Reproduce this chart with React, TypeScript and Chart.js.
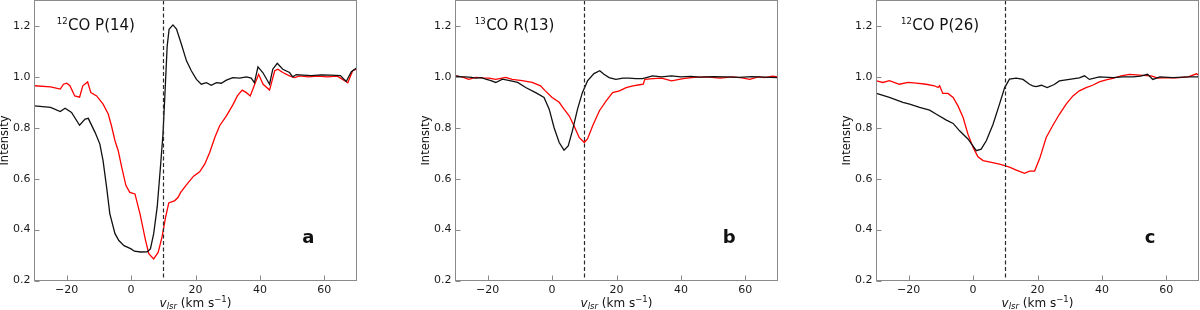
import React, { useEffect, useRef } from "react";
import { Chart, registerables } from "chart.js";
Chart.register(...registerables);

const FONT = "'DejaVu Sans', 'Liberation Sans', sans-serif";

const xTicks = [-20, 0, 20, 40, 60];
const yTicks = [0.2, 0.4, 0.6, 0.8, 1.0, 1.2];
const xMin = -30;
const xMax = 70;
const yMin = 0.2;
const yMax = 1.3;
const restVelocity = 10;

// Panel a: 12CO P(14)
const aBlackX = [-30, -25, -22, -20.5, -18.5, -16, -14.3, -13.3, -11.2, -9.7, -8.7, -7.6, -6.6, -5, -3.8, -2.2, 0, 1, 3, 5, 6, 7, 8.1, 9.1, 9.9, 10.5, 11.2, 11.8, 13, 14.1, 15.6, 17.2, 18.7, 20.3, 21.8, 23.4, 24.9, 26.5, 28, 29.6, 31.6, 33.7, 35.8, 37.3, 38.3, 39.4, 40.9, 43, 44, 45.4, 47.1, 49.2, 50.2, 51.3, 53.4, 56, 59, 62, 65, 66.8, 68.4, 70];
const aBlackY = [0.886, 0.88, 0.864, 0.877, 0.86, 0.81, 0.834, 0.837, 0.782, 0.736, 0.67, 0.566, 0.462, 0.384, 0.357, 0.337, 0.324, 0.315, 0.312, 0.313, 0.324, 0.383, 0.488, 0.644, 0.775, 0.93, 1.12, 1.187, 1.204, 1.188, 1.129, 1.063, 1.024, 0.99, 0.971, 0.977, 0.967, 0.977, 0.975, 0.987, 0.997, 0.995, 1.0, 0.995, 0.977, 1.039, 1.017, 0.971, 1.03, 1.053, 1.03, 1.017, 1.0, 1.009, 1.007, 1.005, 1.008, 1.007, 1.005, 0.982, 1.02, 1.035];
const aRedX = [-30, -25, -22, -21, -20, -19, -17.5, -16, -15, -13.5, -12.5, -10.7, -8.7, -7.1, -6.1, -5, -4, -2.9, -1.6, -0.4, 1.2, 2.8, 4.5, 5.5, 7, 8.4, 9.6, 10.7, 11.7, 13.6, 14.6, 15.4, 17.3, 19.4, 21.3, 22.9, 24.4, 26, 27.5, 29.6, 31.6, 33, 34.5, 35.8, 37, 38.4, 39.6, 41, 43, 44.6, 45.6, 47.1, 49.2, 50.8, 52.3, 55, 58, 61, 64, 65.7, 67.3, 68.8, 70];
const aRedY = [0.965, 0.961, 0.952, 0.971, 0.975, 0.965, 0.925, 0.92, 0.965, 0.98, 0.938, 0.925, 0.893, 0.854, 0.808, 0.749, 0.71, 0.644, 0.573, 0.546, 0.54, 0.46, 0.357, 0.305, 0.285, 0.31, 0.37, 0.448, 0.505, 0.514, 0.527, 0.546, 0.578, 0.61, 0.627, 0.658, 0.703, 0.762, 0.808, 0.847, 0.89, 0.925, 0.948, 0.938, 0.925, 0.971, 1.01, 0.971, 0.948, 1.024, 1.03, 1.017, 1.004, 0.997, 1.004, 1.0, 1.003, 1.0, 1.003, 0.99, 0.977, 1.024, 1.03];

// Panel b: 13CO R(13)
const bBlackX = [-30, -28, -26.9, -25, -23.8, -22, -20.6, -19, -17.5, -15.4, -12.8, -10.7, -8.2, -5.1, -2.5, -0.9, 0.6, 2.2, 3.7, 5, 6.3, 7.9, 9.4, 11, 13, 14.8, 16.1, 17.7, 19.8, 22, 23.9, 26, 28.1, 31.2, 34, 37, 40, 43, 46, 50, 54, 58, 62, 66, 70];
const bBlackY = [1.004, 1.0, 1.0, 0.998, 0.995, 0.997, 0.991, 0.985, 0.978, 0.991, 0.984, 0.978, 0.958, 0.938, 0.919, 0.873, 0.801, 0.742, 0.712, 0.729, 0.788, 0.873, 0.938, 0.984, 1.013, 1.024, 1.01, 0.997, 0.99, 0.995, 0.995, 0.993, 0.993, 1.004, 1.0, 1.004, 1.0, 1.002, 0.999, 1.001, 1.0, 0.998, 1.001, 0.999, 0.997];
const bRedX = [-30, -27.5, -25.9, -23.8, -21.5, -19.6, -17.5, -14.4, -12.4, -9.3, -6.2, -3.6, -2.1, 0, 2.2, 3.7, 5.3, 6.8, 8.4, 10, 11, 12.6, 14.7, 16.8, 18.8, 20.9, 23, 25.1, 27.6, 28.3, 28.8, 31.4, 34, 37.1, 40.7, 44, 48, 52.1, 56, 59, 61.4, 64, 66, 68.5, 70];
const bRedY = [1.004, 0.998, 0.99, 0.998, 0.996, 0.995, 0.99, 0.998, 0.99, 0.985, 0.978, 0.965, 0.945, 0.919, 0.9, 0.873, 0.847, 0.808, 0.762, 0.742, 0.756, 0.808, 0.867, 0.906, 0.938, 0.945, 0.958, 0.965, 0.97, 0.971, 0.99, 0.993, 0.995, 0.984, 0.993, 0.998, 1.0, 0.995, 1.0, 0.996, 0.99, 1.0, 0.997, 1.003, 1.0];

// Panel c: 12CO P(26)
const cBlackX = [-30, -26, -21.8, -19.7, -16.6, -13.5, -11.4, -8.3, -6.2, -4.2, -1.6, 1, 2.5, 4.1, 6.2, 8.2, 9.8, 11.3, 13.4, 15.5, 17.5, 18.5, 19.6, 21.2, 23, 25.2, 26.8, 29.9, 33, 34.6, 36.1, 39.2, 43.4, 46.5, 49.6, 52, 54.2, 55.8, 58, 62, 67, 70];
const cBlackY = [0.935, 0.919, 0.9, 0.893, 0.88, 0.869, 0.853, 0.83, 0.817, 0.788, 0.756, 0.71, 0.716, 0.749, 0.814, 0.893, 0.958, 0.991, 0.995, 0.99, 0.971, 0.965, 0.962, 0.967, 0.958, 0.97, 0.984, 0.99, 0.996, 1.004, 0.99, 1.0, 0.997, 1.0, 1.0, 1.003, 1.01, 0.99, 1.0, 0.997, 1.0, 1.0];
const cRedX = [-30, -28, -26, -22.9, -20.2, -17.7, -14.6, -12, -10.9, -10.4, -9.4, -7.8, -6.2, -4.7, -3.1, -1.6, 0, 1.5, 3.1, 5.7, 8.2, 9.8, 11.3, 13.4, 16, 17.5, 19.1, 20.7, 22.7, 24.7, 26.8, 28.9, 31, 33, 35.1, 37.1, 39.2, 41.3, 43.4, 46, 48.6, 52.7, 55.3, 57.4, 60, 63, 66.8, 69.4, 70];
const cRedY = [0.984, 0.978, 0.985, 0.971, 0.978, 0.975, 0.971, 0.965, 0.958, 0.965, 0.935, 0.935, 0.919, 0.886, 0.84, 0.775, 0.723, 0.686, 0.671, 0.664, 0.657, 0.651, 0.645, 0.634, 0.621, 0.63, 0.63, 0.68, 0.762, 0.808, 0.853, 0.893, 0.925, 0.945, 0.958, 0.967, 0.98, 0.988, 0.994, 1.004, 1.01, 1.006, 1.004, 0.995, 0.997, 0.996, 1.0, 1.012, 1.006];

const panelLetters = ["a", "b", "c"];
const panelIsotopes = ["12", "13", "12"];
const panelTransitions = ["CO P(14)", "CO R(13)", "CO P(26)"];
const panelTextX = [-23.1, -24, -22.4];
const panelTextY = 1.184;
const panelLetterX = 55;
const panelLetterY = 0.365;

const blackSeries = [
  [aBlackX, aBlackY],
  [bBlackX, bBlackY],
  [cBlackX, cBlackY],
];
const redSeries = [
  [aRedX, aRedY],
  [bRedX, bRedY],
  [cRedX, cRedY],
];

const canvasLefts = [0, 421, 842];
const CANVAS_W = 360;
const CANVAS_H = 310;

function toPoints(xs: number[], ys: number[]) {
  return xs.map((x, i) => ({ x, y: ys[i] }));
}

function fmtX(v: number) {
  return v < 0 ? "\u2212" + Math.abs(v) : String(v);
}

function makeDecor(idx: number) {
  return {
    id: "decor" + idx,
    afterDatasetsDraw(chart: any) {
      const ctx = chart.ctx as CanvasRenderingContext2D;
      const { left, right, top, bottom } = chart.chartArea;
      const xs = chart.scales.x;
      const ys = chart.scales.y;
      ctx.save();
      // dashed rest-velocity line
      const dx = Math.round(xs.getPixelForValue(restVelocity)) + 0.5;
      ctx.strokeStyle = "#2a2a2a";
      ctx.lineWidth = 1.2;
      ctx.setLineDash([4, 2.5]);
      ctx.beginPath();
      ctx.moveTo(dx, top);
      ctx.lineTo(dx, bottom);
      ctx.stroke();
      ctx.setLineDash([]);

      // frame
      ctx.strokeStyle = "#8a8a8a";
      ctx.lineWidth = 1;
      ctx.strokeRect(left, top, right - left, bottom - top);

      // inward ticks
      ctx.beginPath();
      xTicks.forEach((v) => {
        const p = Math.round(xs.getPixelForValue(v)) + 0.5;
        ctx.moveTo(p, bottom);
        ctx.lineTo(p, bottom - 5);
      });
      yTicks.forEach((v) => {
        const p = Math.round(ys.getPixelForValue(v)) + 0.5;
        ctx.moveTo(left, p);
        ctx.lineTo(left + 5, p);
      });
      ctx.stroke();

      // transition label with superscript isotope
      ctx.fillStyle = "#111";
      ctx.textBaseline = "alphabetic";
      ctx.textAlign = "left";
      const tx = xs.getPixelForValue(panelTextX[idx]);
      const ty = ys.getPixelForValue(panelTextY);
      ctx.font = `8.5px ${FONT}`;
      ctx.fillText(panelIsotopes[idx], tx, ty - 6);
      const supW = ctx.measureText(panelIsotopes[idx]).width;
      ctx.font = `15px ${FONT}`;
      ctx.fillText(panelTransitions[idx], tx + supW + 0.5, ty);

      // panel letter
      ctx.font = `bold 18px ${FONT}`;
      ctx.textAlign = "center";
      ctx.textBaseline = "middle";
      ctx.fillText(panelLetters[idx], xs.getPixelForValue(panelLetterX), ys.getPixelForValue(panelLetterY));

      // y title
      ctx.save();
      ctx.translate(left - 29, (top + bottom) / 2);
      ctx.rotate(-Math.PI / 2);
      ctx.font = `11.5px ${FONT}`;
      ctx.textAlign = "center";
      ctx.textBaseline = "middle";
      ctx.fillText("Intensity", 0, 0);
      ctx.restore();

      // x title: v_lsr (km s^-1)
      const parts = [
        { t: "v", f: `italic 12px ${FONT}`, dy: 0 },
        { t: "lsr", f: `italic 8.5px ${FONT}`, dy: 2.5 },
        { t: " (km s", f: `12px ${FONT}`, dy: 0 },
        { t: "\u22121", f: `8.5px ${FONT}`, dy: -5 },
        { t: ")", f: `12px ${FONT}`, dy: 0 },
      ];
      let total = 0;
      const widths = parts.map((p) => {
        ctx.font = p.f;
        const w = ctx.measureText(p.t).width;
        total += w;
        return w;
      });
      let cx = (left + right) / 2 - total / 2;
      const by = 306.5;
      ctx.textAlign = "left";
      ctx.textBaseline = "alphabetic";
      parts.forEach((p, i) => {
        ctx.font = p.f;
        ctx.fillText(p.t, cx, by + p.dy);
        cx += widths[i];
      });
      ctx.restore();
    },
  };
}

function Panel({ idx }: { idx: number }) {
  const ref = useRef<HTMLCanvasElement | null>(null);
  useEffect(() => {
    if (!ref.current) return;
    const [bx, by] = blackSeries[idx];
    const [rx, ry] = redSeries[idx];
    const chart = new Chart(ref.current, {
      type: "line",
      data: {
        datasets: [
          {
            data: toPoints(bx, by),
            borderColor: "#111111",
            borderWidth: 1.3,
            pointRadius: 0,
            tension: 0,
            fill: false,
          },
          {
            data: toPoints(rx, ry),
            borderColor: "#ff0000",
            borderWidth: 1.3,
            pointRadius: 0,
            tension: 0,
            fill: false,
          },
        ],
      },
      options: {
        responsive: false,
        animation: false,
        devicePixelRatio: 1,
        layout: { padding: { left: 0, right: 3.5, top: 0.5, bottom: 0 } },
        plugins: {
          legend: { display: false },
          tooltip: { enabled: false },
        },
        scales: {
          x: {
            type: "linear",
            min: xMin,
            max: xMax,
            afterBuildTicks: (s: any) => {
              s.ticks = xTicks.map((v) => ({ value: v }));
            },
            afterFit: (s: any) => {
              s.height = 29.5;
              s.paddingLeft = 0;
              s.paddingRight = 0;
              s.paddingTop = 0;
              s.paddingBottom = 0;
            },
            grid: { display: false, drawTicks: false },
            border: { display: false },
            ticks: {
              padding: 3,
              maxRotation: 0,
              autoSkip: false,
              color: "#1a1a1a",
              font: { family: FONT, size: 11 },
              callback: (v: any) => fmtX(Number(v)),
            },
          },
          y: {
            type: "linear",
            min: yMin,
            max: yMax,
            afterBuildTicks: (s: any) => {
              s.ticks = yTicks.map((v) => ({ value: v }));
            },
            afterFit: (s: any) => {
              s.width = 34.5;
              s.paddingLeft = 0;
              s.paddingRight = 0;
              s.paddingTop = 0;
              s.paddingBottom = 0;
            },
            grid: { display: false, drawTicks: false },
            border: { display: false },
            ticks: {
              padding: 4,
              autoSkip: false,
              color: "#1a1a1a",
              font: { family: FONT, size: 11 },
              callback: (v: any) => Number(v).toFixed(1),
            },
          },
        },
      },
      plugins: [makeDecor(idx)],
    } as any);
    return () => chart.destroy();
  }, [idx]);
  return (
    <canvas
      ref={ref}
      width={CANVAS_W}
      height={CANVAS_H}
      style={{
        position: "absolute",
        left: canvasLefts[idx],
        top: 0,
        width: CANVAS_W,
        height: CANVAS_H,
      }}
    />
  );
}

export default function App() {
  return (
    <div
      style={{
        position: "fixed",
        left: 0,
        top: 0,
        width: 1200,
        height: 310,
        background: "#ffffff",
        overflow: "hidden",
      }}
    >
      {[0, 1, 2].map((i) => (
        <Panel key={i} idx={i} />
      ))}
    </div>
  );
}
